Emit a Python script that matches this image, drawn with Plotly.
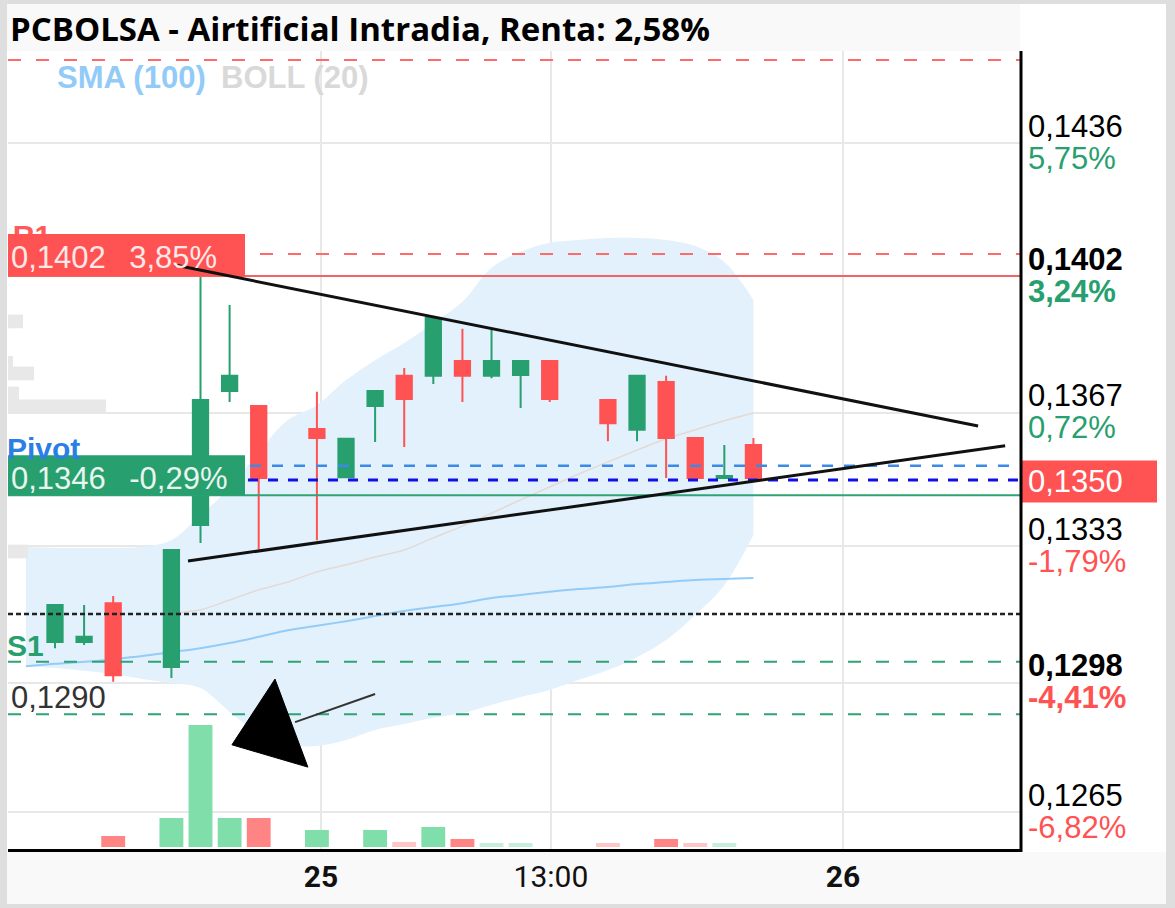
import plotly.graph_objects as go

W, H = 1175, 908

# ---------------- data ----------------
title_text = "PCBOLSA - Airtificial Intradia, Renta: 2,58%"

# candle slot index (gaps = slots without trades)
candle_idx = [0, 1, 2, 4, 5, 6, 7, 9, 10, 11, 12, 13, 14, 15, 16, 17, 19, 20, 21, 22, 23, 24]
opens  = [0.13085, 0.13085, 0.13184, 0.13021, 0.13384, 0.13726, 0.13688, 0.13629, 0.13506, 0.13688, 0.13765,
          0.13765, 0.13803, 0.13765, 0.13767, 0.13803, 0.13703, 0.13627, 0.13749, 0.13606, 0.13504, 0.13588]
highs  = [0.13179, 0.13179, 0.13202, 0.13320, 0.14050, 0.13946, 0.13688, 0.13724, 0.13604, 0.13726, 0.13785,
          0.13918, 0.13885, 0.13885, 0.13803, 0.13803, 0.13703, 0.13765, 0.13765, 0.13606, 0.13588, 0.13606]
lows   = [0.13069, 0.13077, 0.12983, 0.12993, 0.13338, 0.13698, 0.13322, 0.13345, 0.13506, 0.13596, 0.13583,
          0.13744, 0.13698, 0.13759, 0.13683, 0.13698, 0.13598, 0.13598, 0.13504, 0.13504, 0.13504, 0.13504]
closes = [0.13179, 0.13098, 0.13000, 0.13320, 0.13703, 0.13765, 0.13504, 0.13606, 0.13604, 0.13726, 0.13706,
          0.13913, 0.13765, 0.13803, 0.13803, 0.13706, 0.13644, 0.13765, 0.13606, 0.13504, 0.13509, 0.13504]
volumes = [0, 0, 11, 29, 122, 29, 29, 17, 0, 17, 5, 20, 8, 4, 4, 0, 4, 0, 8, 4, 4, 0]

band_idx = list(range(-1, 25))
band_upper = [0.13328, 0.13325, 0.13325, 0.13325, 0.13328, 0.13345, 0.13409, 0.13478, 0.13570, 0.13652,
              0.13690, 0.13754, 0.13805, 0.13849, 0.13900, 0.13954, 0.14041, 0.14082, 0.14105, 0.14112,
              0.14117, 0.14117, 0.14112, 0.14097, 0.14056, 0.13959]
band_lower = [0.13023, 0.13018, 0.13011, 0.13003, 0.12990, 0.12980, 0.12967, 0.12906, 0.12852, 0.12822,
              0.12819, 0.12834, 0.12860, 0.12875, 0.12891, 0.12903, 0.12924, 0.12944, 0.12962, 0.12988,
              0.13013, 0.13046, 0.13090, 0.13154, 0.13230, 0.13358]
boll_idx = list(range(4, 25))
boll_mid = [0.13159, 0.13167, 0.13192, 0.13218, 0.13238,
            0.13264, 0.13282, 0.13302, 0.13320, 0.13351, 0.13381, 0.13414, 0.13448, 0.13481, 0.13514,
            0.13545, 0.13575, 0.13604, 0.13627, 0.13650, 0.13670]
sma100 = [0.13023, 0.13029, 0.13034, 0.13041, 0.13049, 0.13059, 0.13069, 0.13082, 0.13098, 0.13115,
          0.13126, 0.13138, 0.13151, 0.13164, 0.13174, 0.13184, 0.13197, 0.13205, 0.13213, 0.13220,
          0.13225, 0.13233, 0.13238, 0.13243, 0.13246, 0.13248]

profile_price = [0.13904, 0.13798, 0.13771, 0.13720, 0.13687, 0.13316]
profile_size = [15, 5, 26, 11, 98, 20]

last_price = 0.1350
r1_level = 0.1402
pivot_level = 0.1346
s1_level = 0.1290
r2_dash_level = 0.14572
r1_dash_level = 0.14076
pivot_dash_level = 0.13535
last_dash_level = 0.13499
s1_dash_level = 0.13034
dotted_level = 0.13156

NB = "\u00a0\u00a0\u2009"
r1_label = "0,1402" + NB + "3,85%"
pivot_label = "0,1346" + NB + "-0,29%"
s1_label = "0,1290"
last_label = "0,1350"

trend_upper_x = [4.12, 31.72]
trend_upper_y = [0.14048, 0.13637]
trend_lower_x = [4.57, 32.65]
trend_lower_y = [0.13292, 0.13586]

arrow_head_x = [7.56, 6.08, 8.69]
arrow_head_y = [0.12990, 0.12822, 0.12765]
arrow_tail_x = [8.25, 11.0]
arrow_tail_y = [0.12880, 0.12952]

y_ticks = [0.1436, 0.1402, 0.1367, 0.1333, 0.1298, 0.1265]
y_tick_price = ["0,1436", "0,1402", "0,1367", "0,1333", "0,1298", "0,1265"]
y_tick_pct = ["5,75%", "3,24%", "0,72%", "-1,79%", "-4,41%", "-6,82%"]
y_tick_bold = [False, True, False, False, True, False]

x_ticks = [9.14, 17.04, 27.08]
x_tick_labels = ["<b>25</b>", "13:00", "<b>26</b>"]

# ---------------- style ----------------
GREEN = "#279f6f"
RED = "#ff5252"
VGREEN = "#80deaa"
VRED = "#ff8484"
VGREEN_L = "#c4efd8"
VRED_L = "#ffc6c6"
GRID = "#e8e8e8"
FONT = "Liberation Sans, Arial"
PRICE_RANGE = [0.125532, 0.145951]
TAG_X = -1.45          # x position of the level tag (left edge)
R1_TAG_Y = 0.14115     # tag text position (partly hidden behind the R1 box)

L_PX, R_PX, T_PX, B_PX = 8, 1020, 51, 850


def px_x(p):
    return p / W


def px_y(p):
    return 1 - p / H


fig = go.Figure()

# Bollinger band (main subplot, below candles)
fig.add_trace(go.Scatter(x=band_idx, y=band_upper, mode="lines", line=dict(width=0, shape="spline"),
                         hoverinfo="skip", showlegend=False))
fig.add_trace(go.Scatter(x=band_idx, y=band_lower, mode="lines", line=dict(width=0, shape="spline"),
                         fill="tonexty", fillcolor="#e3f1fc", hoverinfo="skip", showlegend=False))
fig.add_trace(go.Scatter(x=boll_idx, y=boll_mid, mode="lines",
                         line=dict(width=1.5, color="#e4d9d3", shape="spline"),
                         hoverinfo="skip", showlegend=False))
fig.add_trace(go.Scatter(x=band_idx, y=sma100, mode="lines",
                         line=dict(width=2, color="#93ccf8", shape="spline"),
                         hoverinfo="skip", showlegend=False))

# "R1" tag (sits behind the R1 box, like in the original)
fig.add_trace(go.Scatter(x=[TAG_X], y=[R1_TAG_Y], mode="text", text=["<b>R1</b>"],
                         textposition="middle right",
                         textfont=dict(family=FONT, size=30, color="#ff5a5a"), hoverinfo="skip", showlegend=False,
                         cliponaxis=True))

# volume profile on the left
fig.add_trace(go.Bar(x=profile_size, y=profile_price, orientation="h", width=0.00035,
                     marker=dict(color="#e8e8e8", line=dict(width=0)),
                     xaxis="x3", yaxis="y", hoverinfo="skip", showlegend=False))

# volume
vol_colors = []
for k, v in enumerate(volumes):
    up = k == 0 or closes[k] >= closes[k - 1]
    if v <= 5:
        vol_colors.append(VGREEN_L if up else VRED_L)
    else:
        vol_colors.append(VGREEN if up else VRED)
fig.add_trace(go.Bar(x=candle_idx, y=volumes, width=0.82, marker=dict(color=vol_colors, line=dict(width=0)),
                     xaxis="x", yaxis="y2", hoverinfo="skip", showlegend=False))

# candles (overlay price axis so they are drawn above the band)
fig.add_trace(go.Candlestick(x=candle_idx, open=opens, high=highs, low=lows, close=closes,
                             increasing=dict(line=dict(color=GREEN, width=2), fillcolor=GREEN),
                             decreasing=dict(line=dict(color=RED, width=2), fillcolor=RED),
                             whiskerwidth=0, hoverinfo="skip", showlegend=False, xaxis="x", yaxis="y3"))

shapes = []
# frame / background areas
shapes.append(dict(type="rect", xref="paper", yref="paper", x0=0, x1=px_x(R_PX), y0=px_y(T_PX), y1=1,
                   fillcolor="#f9f9f9", line=dict(width=0), layer="below"))
shapes.append(dict(type="rect", xref="paper", yref="paper", x0=0, x1=1, y0=0, y1=px_y(852),
                   fillcolor="#f9f9f9", line=dict(width=0), layer="below"))
for x0, x1, y0, y1 in [(0, 7, 0, H), (1166, W, 0, H), (0, W, 0, 4), (0, W, 904, H)]:
    shapes.append(dict(type="rect", xref="paper", yref="paper", x0=px_x(x0), x1=px_x(x1),
                       y0=px_y(y1), y1=px_y(y0), fillcolor="#dedede", line=dict(width=0), layer="below"))


def hline(level, color, width, dash):
    return dict(type="line", xref="paper", yref="y", x0=px_x(L_PX), x1=px_x(R_PX), y0=level, y1=level,
                line=dict(color=color, width=width, dash=dash), layer="above")


shapes += [
    hline(r2_dash_level, "#ff6b6b", 2, "13px,15px"),
    hline(r1_dash_level, "#ff6b6b", 2, "13px,15px"),
    hline(r1_level, "#f26363", 2, "solid"),
    hline(pivot_dash_level, "#3b8be6", 2.5, "11px,11px"),
    hline(last_dash_level, "#1010e8", 3, "10px,10px"),
    hline(pivot_level, "#2ea373", 2, "solid"),
    hline(dotted_level, "#222222", 2.5, "5px,3px"),
    hline(s1_dash_level, "#2ea373", 2, "13px,15px"),
    hline(s1_level, "#2ea373", 2, "13px,15px"),
]

# label boxes
shapes.append(dict(type="rect", xref="paper", yref="y", x0=px_x(L_PX), x1=px_x(245),
                   ysizemode="pixel", yanchor=r1_level, y0=0, y1=42,
                   fillcolor=RED, line=dict(width=0), layer="above"))
shapes.append(dict(type="rect", xref="paper", yref="y", x0=px_x(L_PX), x1=px_x(245),
                   ysizemode="pixel", yanchor=pivot_level, y0=0, y1=40,
                   fillcolor=GREEN, line=dict(width=0), layer="above"))
shapes.append(dict(type="rect", xref="paper", yref="y", x0=px_x(1021), x1=px_x(1157),
                   ysizemode="pixel", yanchor=last_price, y0=-23, y1=19,
                   fillcolor=RED, line=dict(width=0), layer="above"))

# trend lines
shapes.append(dict(type="line", xref="x", yref="y", x0=trend_upper_x[0], x1=trend_upper_x[1],
                   y0=trend_upper_y[0], y1=trend_upper_y[1], line=dict(color="#111111", width=3), layer="above"))
shapes.append(dict(type="line", xref="x", yref="y", x0=trend_lower_x[0], x1=trend_lower_x[1],
                   y0=trend_lower_y[0], y1=trend_lower_y[1], line=dict(color="#111111", width=3), layer="above"))

# arrow drawing
shapes.append(dict(type="line", xref="x", yref="y", x0=arrow_tail_x[0], x1=arrow_tail_x[1],
                   y0=arrow_tail_y[0], y1=arrow_tail_y[1], line=dict(color="#333333", width=2), layer="above"))
path = "M {} {} L {} {} L {} {} Z".format(arrow_head_x[0], arrow_head_y[0], arrow_head_x[1], arrow_head_y[1],
                                          arrow_head_x[2], arrow_head_y[2])
shapes.append(dict(type="path", xref="x", yref="y", path=path, fillcolor="#000000",
                   line=dict(color="#000000", width=1), layer="above"))

# axis lines
shapes.append(dict(type="line", xref="paper", yref="paper", x0=px_x(1021), x1=px_x(1021),
                   y0=px_y(T_PX), y1=px_y(852), line=dict(color="#000000", width=3), layer="above"))
shapes.append(dict(type="line", xref="paper", yref="paper", x0=px_x(L_PX), x1=px_x(1022),
                   y0=px_y(850.5), y1=px_y(850.5), line=dict(color="#000000", width=3), layer="above"))

ann = []


def text(t, xpx, y, yref="paper", size=31, color="#000", yshift=0, family=FONT, xanchor="left"):
    ann.append(dict(text=t, x=px_x(xpx), y=y, xref="paper", yref=yref, showarrow=False,
                    xanchor=xanchor, yanchor="middle", yshift=yshift,
                    font=dict(family=family, size=size, color=color)))


text("<b>" + title_text + "</b>", 8, px_y(28), size=33, color="#000", family="Open Sans")
text("<b>SMA (100)</b>", 55, px_y(77), size=31, color="#92cbf8")
text("<b>BOLL (20)</b>", 219, px_y(77), size=31, color="#d9d9d9")

text(r1_label, 9, r1_level, yref="y", size=31, color="#ffe8e8", yshift=19)
text("<b>Pivot</b>", 5, pivot_level, yref="y", size=30, color="#2b7ee3", yshift=47)
text(pivot_label, 9, pivot_level, yref="y", size=31, color="#e8f6ee", yshift=17)
text("<b>S1</b>", 5, s1_level, yref="y", size=30, color=GREEN, yshift=69)
text(s1_label, 9, s1_level, yref="y", size=31, color="#333333", yshift=17)

for v, ptxt, ctxt, b in zip(y_ticks, y_tick_price, y_tick_pct, y_tick_bold):
    pc = RED if ctxt.startswith("-") else GREEN
    if b:
        ptxt = "<b>" + ptxt + "</b>"
        ctxt = "<b>" + ctxt + "</b>"
    text(ptxt, 1026, v, yref="y", size=31, color="#000000", yshift=17)
    text(ctxt, 1026, v, yref="y", size=31, color=pc, yshift=-15)

text(last_label, 1026, last_price, yref="y", size=31, color="#ffffff", yshift=-2)

fig.update_layout(
    width=W, height=H, margin=dict(l=0, r=0, t=0, b=0),
    paper_bgcolor="white", plot_bgcolor="white", showlegend=False, boxgap=0.25,
    xaxis=dict(domain=[px_x(L_PX), px_x(R_PX)], range=[-1.615, 33.16], tickvals=x_ticks, ticktext=x_tick_labels,
               showgrid=True, gridcolor=GRID, gridwidth=2, zeroline=False, ticks="", showline=False,
               tickfont=dict(family="Roboto", size=30, color="#111111"), rangeslider=dict(visible=False),
               ticklabelstandoff=6),
    yaxis=dict(domain=[px_y(B_PX), px_y(T_PX)], range=PRICE_RANGE, tickvals=y_ticks,
               showticklabels=False, showgrid=True, gridcolor=GRID, gridwidth=2, zeroline=False, ticks=""),
    yaxis2=dict(overlaying="y", range=[-3, 796], visible=False, showgrid=False),
    yaxis3=dict(overlaying="y", range=PRICE_RANGE, visible=False, showgrid=False),
    xaxis3=dict(overlaying="x", range=[0, 1012], visible=False, showgrid=False),
    shapes=shapes, annotations=ann,
)

fig.write_html("out.html")
